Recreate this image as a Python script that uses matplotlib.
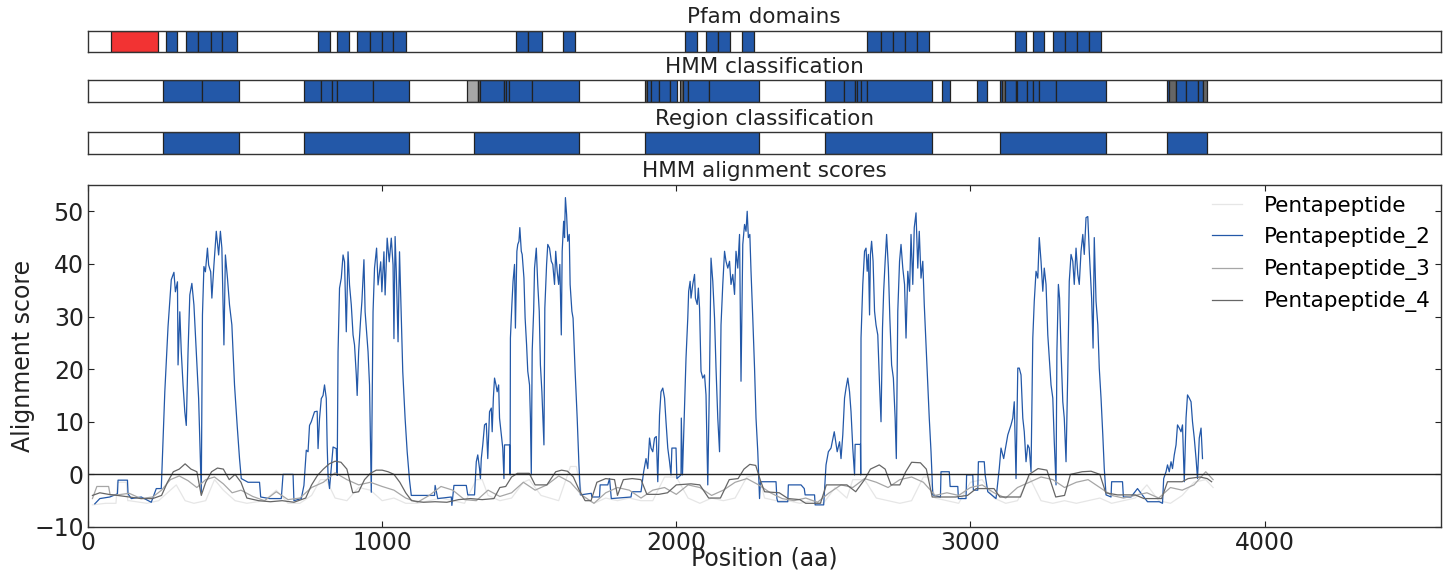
import numpy as np
import matplotlib
matplotlib.use("Agg")
import matplotlib.pyplot as plt

# ---- track data (aa positions) ----
pfam_start = [77, 266, 334, 375, 417, 457, 783, 847, 915, 958, 998, 1038, 1456, 1497, 1615,
              2030, 2101, 2142, 2224, 2649, 2695, 2738, 2779, 2818, 3151, 3213, 3281, 3322, 3363, 3404]
pfam_end = [237, 303, 375, 417, 457, 506, 821, 886, 958, 998, 1038, 1080, 1497, 1544, 1656,
            2070, 2142, 2183, 2263, 2695, 2738, 2779, 2818, 2859, 3189, 3251, 3322, 3363, 3404, 3445]
pfam_kind = ['other'] + ['Pentapeptide_2'] * 29

hmm_start = [254, 386, 735, 791, 828, 847, 969, 1290, 1327, 1333, 1414, 1420, 1432, 1509,
             1894, 1902, 1913, 1940, 1978, 2014, 2023, 2040, 2111,
             2506, 2569, 2607, 2614, 2629, 2647, 2902, 3024,
             3100, 3107, 3119, 3155, 3158, 3193, 3214, 3233, 3290,
             3668, 3675, 3700, 3733, 3773, 3790]
hmm_end = [386, 514, 791, 828, 847, 969, 1090, 1327, 1333, 1414, 1420, 1432, 1509, 1669,
           1902, 1913, 1940, 1978, 2001, 2023, 2040, 2111, 2282,
           2569, 2607, 2614, 2629, 2647, 2869, 2930, 3055,
           3107, 3119, 3155, 3158, 3193, 3214, 3233, 3290, 3462,
           3675, 3700, 3733, 3773, 3790, 3805]
hmm_kind = ['Pentapeptide_2'] * 7 + ['Pentapeptide_3', 'Pentapeptide_4'] + ['Pentapeptide_2'] * 5 + \
           ['Pentapeptide_4'] + ['Pentapeptide_2'] * 4 + ['Pentapeptide_4'] + ['Pentapeptide_2'] * 3 + \
           ['Pentapeptide_2'] * 8 + \
           ['Pentapeptide_2', 'Pentapeptide_4'] + ['Pentapeptide_2'] * 7 + \
           ['Pentapeptide_2', 'Pentapeptide_4', 'Pentapeptide_2', 'Pentapeptide_2', 'Pentapeptide_2', 'Pentapeptide_4']

region_start = [254, 735, 1313, 1894, 2506, 3101, 3668]
region_end = [514, 1090, 1669, 2282, 2869, 3462, 3805]

# ---- alignment scores ----
p2_pos = [23, 40, 74, 100, 102, 134, 136, 147, 181, 215, 232, 249, 261, 272, 278, 283, 292, 297, 304, 306,
          312, 317, 323, 329, 334, 340, 346, 353, 360, 368, 376, 385, 389, 394, 399, 406, 410, 417, 421, 428,
          436, 444, 450, 455, 462, 467, 474, 481, 489, 498, 507, 515, 521, 544, 583, 587, 617, 657, 663, 697,
          700, 725, 734, 742, 748, 753, 759, 770, 779, 782, 787, 793, 799, 804, 810, 813, 816, 821, 833, 844,
          847, 850, 855, 861, 867, 872, 878, 884, 889, 895, 901, 906, 912, 915, 920, 927, 931, 938, 942, 952,
          957, 963, 969, 974, 981, 986, 995, 999, 1006, 1010, 1017, 1024, 1031, 1037, 1040, 1044, 1048, 1054,
          1059, 1065, 1070, 1078, 1085, 1093, 1099, 1178, 1180, 1189, 1235, 1237, 1244, 1286,
          1291, 1314, 1320, 1325, 1331, 1334, 1337, 1342, 1348, 1354, 1359, 1365, 1371, 1374, 1378, 1382,
          1387, 1391, 1396, 1399, 1405, 1410, 1414, 1416, 1433, 1435, 1436, 1441, 1445, 1450, 1453, 1458,
          1461, 1465, 1468, 1473, 1476, 1482, 1486, 1491, 1495, 1501, 1504, 1507, 1510, 1515, 1518, 1524,
          1529, 1534, 1538, 1543, 1550, 1553, 1559, 1563, 1569, 1575, 1580, 1586, 1590, 1595, 1600, 1604,
          1609, 1612, 1617, 1620, 1623, 1627, 1631, 1636, 1639, 1645, 1649, 1656, 1663, 1669, 1674, 1711,
          1713, 1739, 1741, 1767, 1773, 1779, 1846, 1849, 1880, 1889, 1897, 1903, 1909, 1914, 1920, 1926,
          1932, 1937, 1943, 1948, 1954, 1960, 1965, 1971, 1977, 1982, 1985, 1999, 2002, 2016, 2017, 2021,
          2033, 2039, 2042, 2047, 2050, 2056, 2062, 2065, 2071, 2075, 2079, 2084, 2090, 2096, 2101, 2107,
          2113, 2118, 2124, 2130, 2135, 2141, 2147, 2152, 2158, 2164, 2169, 2175, 2181, 2186, 2192, 2198,
          2203, 2209, 2215, 2220, 2226, 2232, 2237, 2241, 2245, 2250, 2254, 2260, 2266, 2271, 2277, 2283,
          2286, 2339, 2342, 2345, 2379, 2381, 2424, 2435, 2438, 2470, 2472, 2501, 2509, 2517, 2526, 2537,
          2547, 2555, 2560, 2566, 2572, 2577,
          2583, 2589, 2594, 2600, 2606, 2608, 2626, 2627, 2628, 2634, 2640, 2645, 2649, 2653, 2657, 2660,
          2664, 2669, 2674, 2679, 2685, 2691, 2696, 2701, 2705, 2710, 2715, 2721, 2726, 2732, 2738, 2744,
          2748, 2753, 2759, 2764, 2770, 2776, 2781, 2787, 2793, 2798, 2804, 2809, 2815, 2821, 2826, 2832,
          2838, 2843, 2849, 2855, 2860, 2866, 2872, 2898, 2900, 2928, 2931, 2957, 2959, 2985, 2987, 3008,
          3010, 3025, 3027, 3047, 3050, 3059, 3087, 3098, 3104, 3113, 3121, 3127, 3138, 3144, 3149, 3155,
          3161, 3166, 3172, 3178, 3183, 3189, 3195, 3200, 3206, 3212, 3217, 3223, 3229, 3234, 3240, 3246,
          3251, 3257, 3263, 3268, 3274, 3280, 3285, 3291, 3294, 3299, 3303, 3308, 3314, 3319, 3325, 3331,
          3336, 3342, 3348, 3353, 3359, 3365, 3370, 3376, 3382, 3387, 3393, 3399, 3404, 3408, 3412, 3417,
          3421, 3427, 3433, 3438, 3444, 3450, 3455, 3461, 3478, 3480, 3517, 3520, 3546, 3568, 3580, 3602,
          3642, 3653, 3657, 3665, 3670, 3676, 3682, 3687, 3693, 3699, 3704, 3710, 3716, 3721, 3727, 3733,
          3738, 3744, 3750, 3755, 3761, 3767, 3772, 3778, 3784, 3789]
p2_val = [-5.6, -4.6, -4.3, -3.7, -1.1, -1.1, -3.7, -4.6, -4.3, -5.3, -2.7, -2.7, 15.7, 28.1, 33.1, 37.0, 38.4, 34.7, 36.6, 20.8,
          30.9, 23.3, 17.0, 11.9, 9.3, 23.3, 34.1, 36.3, 32.2, 23.3, 14.4, -3.4, 30.3, 39.5, 38.5, 43.0, 39.8, 38.5, 33.5, 39.8,
          46.2, 41.7, 46.2, 43.0, 24.6, 41.7, 37.3, 32.2, 28.4, 17.0, 9.3, 3.0, -0.8, -1.5, -1.5, -4.3, -4.6, -4.6, 0.0, 0.0,
          -5.0, -4.6, -2.1, 4.6, 4.3, 9.3, 10.0, 11.9, 12.0, 4.9, 10.6, 14.4, 15.0, 17.0, 14.4, 5.5, -0.2, -2.7, 5.2, 4.9,
          -0.2, 23.3, 35.4, 37.3, 41.7, 40.4, 27.1, 42.3, 36.0, 32.2, 26.5, 24.6, 18.9, 15.0, 23.3, 29.7, 32.8, 40.8, 30.9, 23.3,
          17.0, -3.4, 30.9, 39.2, 43.0, 36.0, 40.4, 34.7, 42.3, 34.1, 44.9, 40.4, 44.9, 39.8, 25.8, 45.2, 38.5, 25.2,
          42.3, 29.7, 19.5, 10.6, 4.3, -1.1, -4.0, -4.0, -2.1, -4.6, -4.3, -5.9, -2.1, -2.1,
          -3.9, -3.9, 2.4, 3.7, 1.1, -0.8, 3.0, 5.6, 9.4, 9.7, 3.0, 11.9, 12.6, 8.1, 14.5, 18.3,
          17.0, 15.7, 17.0, 10.7, 7.5, 5.0, -0.8, 5.6, 5.6, -0.1, 25.9, 32.3, 36.7, 39.9, 27.8, 42.4,
          43.7, 44.3, 46.9, 42.4, 41.8, 37.3, 29.7, 24.6, 19.6, 17.0, 10.7, -0.1, 23.4, 31.0, 39.2, 43.0,
          36.1, 31.0, 20.8, 15.7, 5.6, 31.6, 39.9, 43.7, 43.0, 40.5, 39.9, 36.1, 42.4, 38.6, 36.1, 39.9,
          26.5, 42.4, 48.1, 45.0, 52.6, 49.4, 44.3, 45.6, 36.1, 31.0, 29.7, 19.6, 10.7, 1.8, -3.9, -3.6,
          -4.3, -4.3, -2.0, -2.0, -0.8, -4.6, -4.3, -3.3, -3.3, 0.5, 3.0, 1.1, 6.9, 5.0, 4.3, 6.9,
          7.2, -1.4, 11.3, 15.7, 16.4, 14.5, 10.0, 5.0, 2.4, -0.1, 5.0, 5.0, -0.8, -0.1, 10.7, -0.1,
          22.1, 29.7, 34.8, 36.7, 33.5, 36.1, 38.0, 33.5, 32.3, 35.4, 31.6, 19.6, 18.3, 18.9, 15.1, -2.0,
          18.9, 41.1, 36.7, 29.7, 20.2, 10.7, 4.3, 28.4, 36.1, 42.4, 40.5, 39.2, 40.5, 36.1, 38.0, 34.2,
          42.4, 39.2, 45.6, 17.7, 43.7, 47.5, 46.2, 50.0, 45.0, 45.6, 38.6, 29.7, 20.2, 10.7, 4.3, -4.6,
          -1.4, -1.4, -4.6, -5.2, -5.2, -2.0, -2.0, -2.7, -3.9, -3.9, -5.8, -5.8, 1.8, 4.3, 5.0, 8.1,
          4.3, 6.2, 3.0, 7.5, 14.5, 16.4,
          18.3, 15.7, 11.9, 5.0, -0.1, 5.7, 5.7, -0.1, 25.9, 36.1, 42.4, 43.0, 38.6, 41.8, 30.3, 41.8,
          44.3, 40.5, 31.0, 28.4, 26.5, 17.0, 10.0, 27.8, 34.8, 40.5, 45.6, 39.2, 29.7, 20.8, 18.3, 10.7,
          3.0, 31.0, 40.5, 43.7, 39.2, 36.1, 25.9, 38.6, 34.8, 45.6, 36.1, 46.9, 49.7, 39.2, 46.2, 37.3,
          40.5, 32.3, 24.6, 17.0, 10.7, 4.3, -3.9, -4.3, 0.5, 0.5, -2.3, -2.3, -4.6, -4.6, -0.1, -0.1,
          -3.0, -3.0, 2.4, 2.4, -0.1, -3.3, -4.6, 1.1, 5.0, 3.0, 5.6, 7.5, 9.4, 10.7, 13.8, -0.8,
          20.2, 20.2, 18.9, 10.7, 8.1, 2.4, 5.6, 5.0, 0.5, 25.9, 32.9, 38.6, 37.3, 45.0, 40.5, 34.8,
          39.2, 36.1, 26.5, 22.1, 17.0, 14.5, 6.2, -2.0, 23.4, 36.1, 33.5, 23.4, 13.8, 10.7, 2.4, 19.6,
          36.7, 41.8, 40.5, 36.1, 43.0, 38.0, 36.1, 42.4, 45.6, 41.8, 48.8, 49.0, 42.4, 38.0, 33.5, 24.0,
          45.0, 32.9, 28.4, 20.2, 14.5, 7.5, 1.1, -3.9, -4.3, -1.4, -1.4, -4.3, -4.3, -2.7, -3.6, -5.2,
          -5.2, -5.5, -0.8, 0.5, 1.8, 0.5, 2.4, 1.1, 3.7, 5.6, 9.4, 8.8, 8.1, 9.4, -1.4, 10.7,
          15.1, 14.5, 13.8, 10.0, 6.9, 3.0, -0.8, 6.9, 8.8, 3.0]

p_pos = [15, 60, 95, 100, 130, 135, 140, 200, 240, 270, 300, 330, 360, 400, 430, 460, 500, 540, 600, 640,
         680, 720, 760, 790, 810, 840, 880, 920, 960, 1000, 1040, 1080, 1120, 1160, 1200, 1240, 1280, 1320,
         1340, 1360, 1400, 1440, 1480, 1500, 1540, 1600, 1640, 1660, 1680, 1720, 1760, 1800, 1840, 1880,
         1920, 1960, 2000, 2040, 2080, 2120, 2160, 2200, 2240, 2280, 2300, 2340, 2380, 2420, 2460, 2500,
         2540, 2580, 2600, 2640, 2680, 2720, 2760, 2800, 2840, 2860, 2880, 2920, 2960, 3000, 3040, 3080,
         3120, 3160, 3200, 3240, 3280, 3320, 3360, 3400, 3440, 3480, 3520, 3560, 3600, 3640, 3680, 3720,
         3760, 3800, 3825]
p_val = [-5.8, -5.5, -5.5, -1.5, -1.5, -5.0, -5.0, -5.5, -5.0, -3.5, -2.0, -5.0, -5.5, -5.0, -1.0, -3.0, -5.0, -5.5, -5.0, -3.0,
         -5.5, -5.5, -4.0, -1.0, -1.0, -4.5, -5.0, -2.5, -3.0, -5.0, -4.5, -5.5, -5.5, -5.0, -4.5, -5.0, -5.5, -1.0,
         -1.0, -4.0, -5.0, -4.5, -1.5, -1.0, -4.0, -5.0, 1.5, 1.5, -4.0, -5.5, -4.5, -5.0, -4.5, -5.0,
         -5.0, -0.5, -0.5, -4.5, -5.5, -4.5, -5.0, -4.5, -0.5, 0.0, -4.5, -5.0, -5.0, -5.5, -5.0, -5.5,
         -2.5, -4.5, -1.0, -1.0, -4.5, -5.0, -5.5, -5.0, -0.5, -0.5, -4.5, -5.0, -5.5, -1.5, -1.0, -4.5,
         -5.5, -5.0, -0.5, -5.0, -5.5, -5.0, -5.5, -5.0, -4.5, -5.5, -5.0, -4.5, -2.0, -5.0, -5.5, -4.0,
         -1.5, -1.0, -2.5]

p3_pos = [15, 30, 40, 70, 75, 100, 140, 180, 220, 250, 280, 310, 340, 370, 400, 430, 460, 490, 520, 560,
          600, 640, 680, 720, 760, 800, 840, 880, 920, 960, 1000, 1040, 1080, 1120, 1160, 1200, 1240, 1280,
          1320, 1360, 1400, 1440, 1480, 1520, 1560, 1600, 1640, 1680, 1720, 1760, 1800, 1840, 1880, 1920,
          1960, 2000, 2040, 2080, 2120, 2160, 2200, 2240, 2280, 2320, 2360, 2400, 2440, 2480, 2520, 2560,
          2600, 2640, 2680, 2720, 2760, 2800, 2840, 2880, 2920, 2960, 3000, 3040, 3080, 3120, 3160, 3200,
          3240, 3280, 3320, 3360, 3400, 3440, 3480, 3520, 3560, 3600, 3640, 3680, 3720, 3760, 3800, 3825]
p3_val = [-4.6, -2.3, -2.3, -2.3, -3.9, -3.9, -3.6, -4.6, -4.3, -3.0, -1.0, -0.3, -1.2, -2.5, -1.0, -0.5, -1.8, -3.5, -3.0, -4.2,
          -5.0, -3.3, -4.8, -4.5, -2.5, -1.5, 0.3, -1.0, -2.0, -1.5, -2.3, -3.0, -4.5, -5.3, -4.0, -2.3, -3.0, -4.8,
          -5.0, -3.0, -4.2, -3.5, -1.5, -3.0, -2.0, -0.3, -1.5, -4.0, -5.5, -3.5, -2.5, -3.0, -4.5, -3.0,
          -2.5, -3.8, -2.0, -2.5, -4.0, -3.0, -1.5, -0.8, -2.0, -3.5, -4.6, -5.0, -4.5, -5.3, -3.5, -2.0,
          -2.5, -0.8, -1.5, -2.5, -1.0, -0.5, -1.5, -4.0, -3.5, -4.0, -2.5, -2.0, -3.5, -4.5, -2.5, -1.5,
          -0.5, -1.0, -2.5, -1.5, -1.0, -2.5, -4.0, -4.5, -4.0, -3.5, -4.5, -2.5, -3.0, -2.0, 0.5, -1.0]

p4_pos = [15, 40, 70, 100, 140, 180, 220, 250, 270, 290, 310, 330, 350, 370, 385, 400, 420, 440, 460, 480,
          500, 520, 540, 580, 620, 660, 700, 740, 760, 780, 800, 820, 840, 860, 880, 900, 920, 940, 960, 980,
          1000, 1020, 1040, 1060, 1080, 1100, 1140, 1180, 1220, 1260, 1300, 1340, 1380, 1400, 1420, 1440, 1460,
          1480, 1500, 1520, 1560, 1590, 1610, 1630, 1650, 1670, 1690, 1710, 1730, 1760, 1790, 1800, 1820, 1850,
          1880, 1900, 1940, 1970, 2000, 2050, 2080, 2110, 2150, 2180, 2210, 2230, 2250, 2270, 2285, 2300, 2350,
          2380, 2420, 2440, 2490, 2510, 2580, 2610, 2640, 2660, 2690, 2710, 2730, 2760, 2780, 2800, 2830, 2850,
          2870, 2920, 2950, 2990, 3020, 3080, 3100, 3170, 3200, 3230, 3260, 3290, 3320, 3340, 3380, 3410, 3440,
          3460, 3500, 3560, 3590, 3650, 3670, 3720, 3740, 3780, 3805, 3820]
p4_val = [-4.0, -3.5, -3.8, -4.0, -4.3, -4.6, -4.6, -4.0, -1.5, 0.5, 1.0, 2.0, 1.0, 0.5, -4.0, -1.5, 0.5, 1.2, 1.0, -1.0,
          0.0, -1.5, -4.5, -5.0, -5.2, -5.0, -5.3, -4.5, -2.0, -0.2, 1.0, 2.0, 2.5, 2.3, 1.0, -3.5, -3.3, -1.0, 0.2, 0.8,
          0.8, 0.5, 0.0, -1.5, -3.5, -5.0, -5.3, -5.2, -5.3, -4.8, -4.6, -4.8, -4.6, -2.5, -2.3, -0.5, 0.2,
          0.2, 0.2, -2.0, -2.0, 0.5, 0.8, 0.6, -0.5, -3.0, -5.0, -5.0, -1.5, -0.8, -1.0, -4.0, -1.0, -0.8,
          -1.0, -3.8, -3.8, -3.5, -2.0, -1.8, -2.0, -4.5, -4.5, -1.0, -0.8, 1.0, 1.9, 1.7, -1.0, -3.3, -3.5,
          -4.6, -4.8, -5.5, -5.5, -2.0, -2.0, -3.3, -1.0, 1.0, 1.8, 1.0, -2.0, -2.0, 0.5, 2.3, 2.2, 1.0,
          -4.3, -4.3, -4.3, -4.0, -2.7, -2.7, -4.3, -4.3, 0.0, 1.1, 0.8, -4.3, -4.0, 0.0, 0.5, 0.6, 0.0,
          -3.5, -3.9, -3.9, -4.6, -4.6, -1.4, -1.4, -0.8, -0.5, -0.8, -1.4]

colors = {'Pentapeptide': '#e6e6e6', 'Pentapeptide_2': '#2358a8',
          'Pentapeptide_3': '#a6a6a6', 'Pentapeptide_4': '#666666', 'other': '#f23333'}

xmax = 4600
fig = plt.figure(figsize=(14.48, 5.75), dpi=100)
plt.rcParams['font.family'] = 'DejaVu Sans'


def track(rect, starts, ends, kinds, title, title_y):
    ax = fig.add_axes(rect)
    spans = [(s, e - s) for s, e in zip(starts, ends)]
    ax.broken_barh(spans, (0, 1), facecolors=[colors[k] for k in kinds],
                   edgecolor='#222222', linewidth=0.9)
    ax.set_xlim(0, xmax)
    ax.set_ylim(0, 1)
    ax.set_xticks([])
    ax.set_yticks([])
    for s in ax.spines.values():
        s.set_color('#333333')
        s.set_linewidth(1.0)
    fig.text(0.5277, title_y, title, ha='center', va='center', fontsize=15.5, color='#222222')
    return ax


track([0.0608, 0.9096, 0.9344, 0.0365], pfam_start, pfam_end, pfam_kind, 'Pfam domains', 0.970)
track([0.0608, 0.8226, 0.9344, 0.0383], hmm_start, hmm_end, hmm_kind, 'HMM classification', 0.8835)
track([0.0608, 0.7322, 0.9344, 0.0383], region_start, region_end,
      ['Pentapeptide_2'] * len(region_start), 'Region classification', 0.7925)

ax = fig.add_axes([0.0608, 0.0835, 0.9344, 0.5948])
ax.plot(p_pos, p_val, color=colors['Pentapeptide'], lw=0.9, label='Pentapeptide')
ax.plot(p2_pos, p2_val, color=colors['Pentapeptide_2'], lw=0.9, label='Pentapeptide_2')
ax.plot(p3_pos, p3_val, color=colors['Pentapeptide_3'], lw=0.9, label='Pentapeptide_3')
ax.plot(p4_pos, p4_val, color=colors['Pentapeptide_4'], lw=0.9, label='Pentapeptide_4')
ax.axhline(0, color='#222222', lw=1.0)
ax.set_xlim(0, xmax)
ax.set_ylim(-10, 55)
ax.set_xticks([0, 1000, 2000, 3000, 4000])
ax.set_yticks([-10, 0, 10, 20, 30, 40, 50])
ax.tick_params(direction='in', top=True, right=True, labelsize=17, pad=3, length=4,
               colors='#222222')
for s in ax.spines.values():
    s.set_color('#333333')
    s.set_linewidth(1.0)
ax.set_xlabel('Position (aa)', fontsize=17, color='#222222')
ax.set_ylabel('Alignment score', fontsize=17, color='#222222')
ax.xaxis.set_label_coords(0.5, -0.058)
ax.yaxis.set_label_coords(-0.039, 0.5)
fig.text(0.5277, 0.7026, 'HMM alignment scores', ha='center', va='center', fontsize=15.5, color='#222222')
ax.legend(loc='upper right', frameon=False, fontsize=15.5, handlelength=1.4,
          handletextpad=1.0, labelspacing=0.52, borderaxespad=0.1)

fig.savefig('out.png', dpi=100)
